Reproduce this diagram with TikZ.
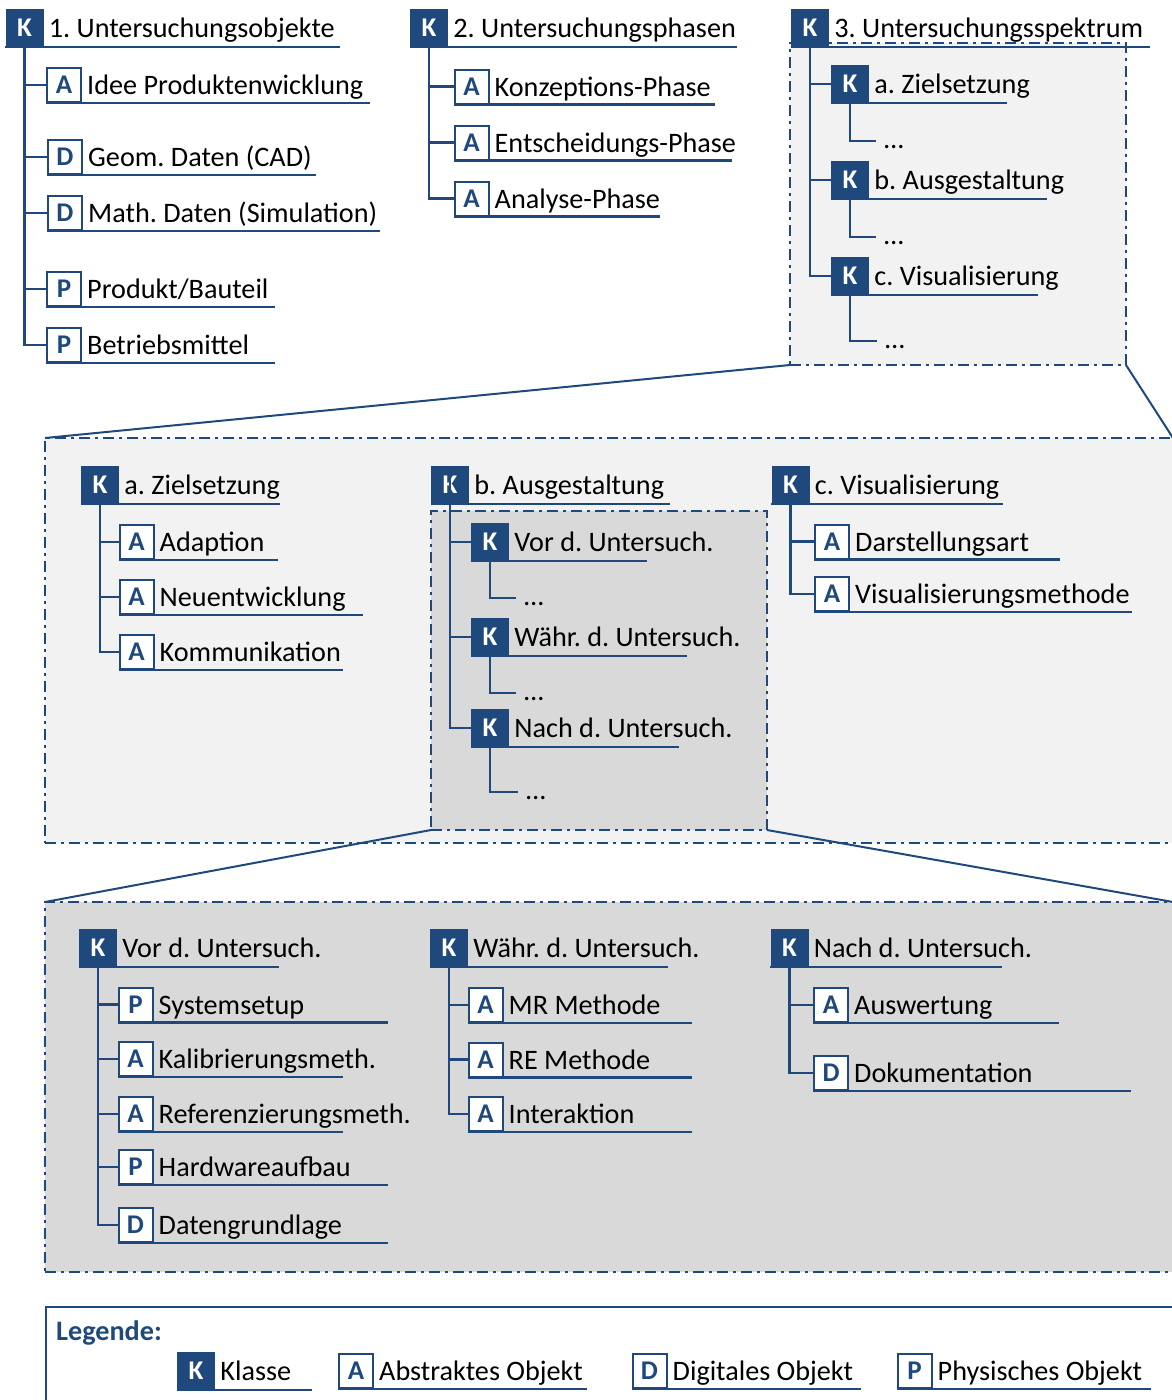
\documentclass[tikz,border=0pt]{standalone}
\usepackage{fontspec}
\setmainfont{Carlito}
\frenchspacing
\usetikzlibrary{calc}
\definecolor{navy}{HTML}{1F497D}
\definecolor{paleg}{HTML}{F2F2F2}
\definecolor{midg}{HTML}{D9D9D9}

\tikzset{
  kbox/.style={fill=navy, draw=none, minimum width=38pt, minimum height=38pt,
    inner sep=0pt, text=white, font=\fontsize{27}{27}\selectfont\bfseries},
  obox/.style={fill=white, draw=navy, line width=2pt, minimum width=34pt,
    minimum height=34pt, inner sep=0pt, text=navy,
    font=\fontsize{27}{27}\selectfont\bfseries},
  lbl/.style={anchor=base west, inner sep=0pt, font=\fontsize{28.2}{30}\selectfont},
  ul/.style={draw=navy, line width=2.4pt},
  ln/.style={draw=navy, line width=2.4pt},
  zoomln/.style={draw=navy, line width=2pt},
  frame/.style={draw=navy, line width=2.2pt, outer sep=0pt, inner sep=0pt,
    anchor=north west, dash pattern=on 11pt off 5pt on 3pt off 5pt},
}

% one taxonomy entry: box with letter, label, underline
% #1 name, #2 box style, #3 letter, #4 x, #5 y, #6 label, #7 end of underline
\newcommand\taxitem[7]{%
  \node[#2] (#1) at (#4,#5) {#3};
  \node[lbl] (#1-t) at ($(#1.east)+(5,9.5)$) {#6};
  \coordinate (#1-e) at (#7,0 |- #1.south west);
  \draw[ul] (#1.south west) -- (#1-e);
}
% placeholder branch "..." below a class
% #1 parent, #2 x of branch end, #3 y of branch end
\newcommand\moreitems[3]{%
  \coordinate (#1-k) at (#2,#3);
  \draw[ln] (#1.south) |- (#1-k);
  \node[lbl] (#1-d) at ($(#1-k)+(8,7)$) {…};
}

\begin{document}
\begin{tikzpicture}[x=1pt,y=-1pt]
\useasboundingbox (0,0) rectangle (1172,1400);
\clip (0,0) rectangle (1172,1400);

% ---------- frames ----------
\node[frame, fill=paleg, minimum width=1128pt, minimum height=405pt] (fm) at (45,438) {};
\node[frame, fill=midg, minimum width=1128pt, minimum height=370pt] (fb) at (45,902) {};
\node[frame, fill=paleg, minimum width=336pt, minimum height=322pt] (f3) at (790,43) {};
\node[frame, fill=midg, minimum width=336pt, minimum height=319pt] (fi) at (431,511) {};
\node[draw=navy, line width=2.4pt, fill=white, outer sep=0pt, anchor=north west,
  minimum width=1150pt, minimum height=130pt] (lg) at (46,1307) {};

% ---------- zoom lines ----------
\draw[zoomln] (f3.south west) -- (fm.north west);
\draw[zoomln] (f3.south east) -- (fm.north east);
\draw[zoomln] (fi.south west) -- (fb.north west);
\draw[zoomln] (fi.south east) -- (fb.north east);

% ---------- 1. Untersuchungsobjekte ----------
\taxitem{c1}{kbox}{K}{24.5}{28}{1. Untersuchungsobjekte}{340}
\taxitem{c1a}{obox}{A}{64}{85}{Idee Produktenwicklung}{370}
\taxitem{c1b}{obox}{D}{65}{157}{Geom. Daten (CAD)}{316}
\taxitem{c1c}{obox}{D}{65}{213}{Math. Daten (Simulation)}{380}
\taxitem{c1d}{obox}{P}{64}{289}{Produkt/Bauteil}{275}
\taxitem{c1e}{obox}{P}{64}{345}{Betriebsmittel}{275}
\foreach \ch in {c1a,c1b,c1c,c1d,c1e} \draw[ln] (c1.south) |- (\ch.west);

% ---------- 2. Untersuchungsphasen ----------
\taxitem{c2}{kbox}{K}{429}{28}{2. Untersuchungsphasen}{737}
\taxitem{c2a}{obox}{A}{471.5}{86.5}{Konzeptions-Phase}{715}
\taxitem{c2b}{obox}{A}{471.5}{142.5}{Entscheidungs-Phase}{732}
\taxitem{c2c}{obox}{A}{471.5}{198.5}{Analyse-Phase}{660}
\foreach \ch in {c2a,c2b,c2c} \draw[ln] (c2.south) |- (\ch.west);

% ---------- 3. Untersuchungsspektrum ----------
\taxitem{c3}{kbox}{K}{810}{28}{3. Untersuchungsspektrum}{1150}
\taxitem{c3a}{kbox}{K}{850}{84}{a. Zielsetzung}{1007}
\taxitem{c3b}{kbox}{K}{850}{180}{b. Ausgestaltung}{1047}
\taxitem{c3c}{kbox}{K}{850}{276}{c. Visualisierung}{1038}
\foreach \ch in {c3a,c3b,c3c} \draw[ln] (c3.south) |- (\ch.west);
\moreitems{c3a}{876}{141}
\moreitems{c3b}{876}{237}
\moreitems{c3c}{877}{341}

% ---------- middle: a. Zielsetzung ----------
\taxitem{ma}{kbox}{K}{100}{485}{a. Zielsetzung}{280}
\taxitem{ma1}{obox}{A}{136.5}{542}{Adaption}{278}
\taxitem{ma2}{obox}{A}{136.5}{597}{Neuentwicklung}{363}
\taxitem{ma3}{obox}{A}{136.5}{652}{Kommunikation}{343}
\foreach \ch in {ma1,ma2,ma3} \draw[ln] (ma.south) |- (\ch.west);

% ---------- middle: b. Ausgestaltung ----------
\taxitem{mb}{kbox}{K}{450}{485}{b. Ausgestaltung}{670}
\taxitem{mb1}{kbox}{K}{490}{542}{Vor d. Untersuch.}{647}
\taxitem{mb2}{kbox}{K}{490}{637}{Währ. d. Untersuch.}{687}
\taxitem{mb3}{kbox}{K}{490}{728}{Nach d. Untersuch.}{679}
\foreach \ch in {mb1,mb2,mb3} \draw[ln] (mb.north) |- (\ch.west);
\moreitems{mb1}{516}{598}
\moreitems{mb2}{516}{693}
\moreitems{mb3}{518}{792}

% ---------- middle: c. Visualisierung ----------
\taxitem{mc}{kbox}{K}{790.5}{485}{c. Visualisierung}{1003}
\taxitem{mc1}{obox}{A}{832}{541.5}{Darstellungsart}{1060}
\taxitem{mc2}{obox}{A}{832}{594}{Visualisierungsmethode}{1132}
\foreach \ch in {mc1,mc2} \draw[ln] (mc.south) |- (\ch.west);

% ---------- bottom: Vor d. Untersuch. ----------
\taxitem{ba}{kbox}{K}{98}{948}{Vor d. Untersuch.}{279}
\taxitem{ba1}{obox}{P}{135.5}{1004.5}{Systemsetup}{388}
\taxitem{ba2}{obox}{A}{135.5}{1059}{Kalibrierungsmeth.}{343}
\taxitem{ba3}{obox}{A}{135.5}{1114}{Referenzierungsmeth.}{343}
\taxitem{ba4}{obox}{P}{135.5}{1167}{Hardwareaufbau}{388}
\taxitem{ba5}{obox}{D}{135.5}{1225}{Datengrundlage}{388}
\foreach \ch in {ba1,ba2,ba3,ba4,ba5} \draw[ln] (ba.south) |- (\ch.west);

% ---------- bottom: Währ. d. Untersuch. ----------
\taxitem{bb}{kbox}{K}{449}{948}{Währ. d. Untersuch.}{668}
\taxitem{bb1}{obox}{A}{485.5}{1005}{MR Methode}{692}
\taxitem{bb2}{obox}{A}{485.5}{1059.5}{RE Methode}{692}
\taxitem{bb3}{obox}{A}{485.5}{1114}{Interaktion}{692}
\foreach \ch in {bb1,bb2,bb3} \draw[ln] (bb.south) |- (\ch.west);

% ---------- bottom: Nach d. Untersuch. ----------
\taxitem{bc}{kbox}{K}{789.5}{948}{Nach d. Untersuch.}{1002}
\taxitem{bc1}{obox}{A}{831}{1005}{Auswertung}{1059}
\taxitem{bc2}{obox}{D}{831}{1073}{Dokumentation}{1131}
\foreach \ch in {bc1,bc2} \draw[ln] (bc.south) |- (\ch.west);

% ---------- legend ----------
\node[lbl, text=navy, font=\fontsize{28.2}{30}\selectfont\bfseries] (lgt) at (56,1340) {Legende:};
\taxitem{lk}{kbox}{K}{196}{1371}{Klasse}{312}
\taxitem{la}{obox}{A}{356}{1371}{Abstraktes Objekt}{587}
\taxitem{ld}{obox}{D}{649.5}{1371}{Digitales Objekt}{861}
\taxitem{lp}{obox}{P}{914.5}{1371}{Physisches Objekt}{1151}

\end{tikzpicture}
\end{document}
